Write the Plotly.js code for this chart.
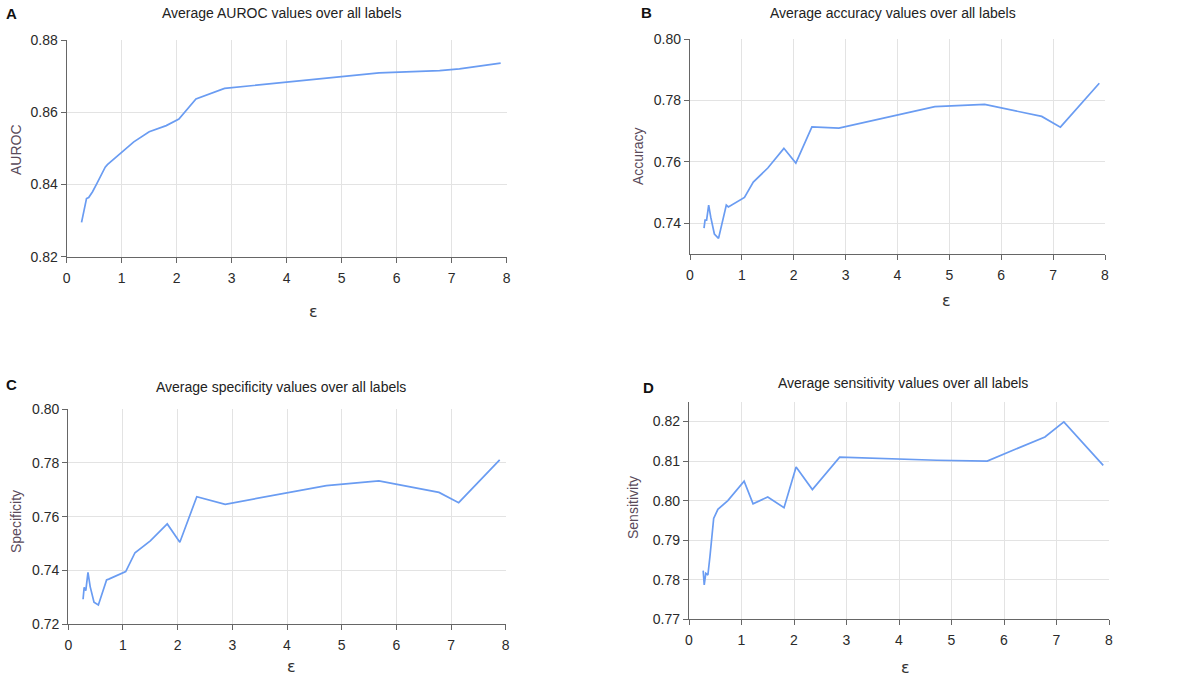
<!DOCTYPE html>
<html>
<head>
<meta charset="utf-8">
<script src="https://cdn.plot.ly/plotly-3.0.1.min.js"></script>
<style>
html,body{margin:0;padding:0;background:#fff;}
#chart{width:1181px;height:678px;}
</style>
</head>
<body>
<div id="chart"></div>
<script>
// epsilon values (x)
const epsilon = [0.27, 0.29, 0.32, 0.36, 0.40, 0.47, 0.55, 0.70, 0.74, 1.05, 1.22, 1.50, 1.81, 2.04, 2.35, 2.87, 4.72, 5.68, 6.78, 7.14, 7.89];

const auroc = [0.8295, 0.8310, 0.8335, 0.8361, 0.8364, 0.8380, 0.8403, 0.8448, 0.8455, 0.8495, 0.8518, 0.8546, 0.8563, 0.8581, 0.8637, 0.8666, 0.8694, 0.8709, 0.8715, 0.8720, 0.8736];

const accuracy = [0.7384, 0.7410, 0.7410, 0.7459, 0.7420, 0.7365, 0.7351, 0.7459, 0.7453, 0.7484, 0.7534, 0.7580, 0.7644, 0.7596, 0.7714, 0.7710, 0.7780, 0.7787, 0.7748, 0.7713, 0.7856];

const specificity = [0.7293, 0.7337, 0.7325, 0.7393, 0.7340, 0.7282, 0.7272, 0.7365, 0.7368, 0.7396, 0.7466, 0.7510, 0.7573, 0.7505, 0.7674, 0.7646, 0.7715, 0.7733, 0.7690, 0.7652, 0.7811];

const sensitivity = [0.7823, 0.7787, 0.7816, 0.7812, 0.7860, 0.7955, 0.7978, 0.7994, 0.8000, 0.8049, 0.7992, 0.8009, 0.7982, 0.8085, 0.8028, 0.8110, 0.8102, 0.8100, 0.8161, 0.8199, 0.8089];

const panelTitles = ["Average AUROC values over all labels", "Average accuracy values over all labels", "Average specificity values over all labels", "Average sensitivity values over all labels"];
const panelLetters = ["A", "B", "C", "D"];
const yTitles = ["AUROC", "Accuracy", "Specificity", "Sensitivity"];
const xTitle = "ε";
const xTicks = [0, 1, 2, 3, 4, 5, 6, 7, 8];

const W = 1181, H = 678;
const px = v => v / W;
const py = v => 1 - v / H;

const lineColor = "#6a9cf2";
const font = "Liberation Sans, Arial, sans-serif";

const traces = [
  {x: epsilon, y: auroc, xaxis: "x", yaxis: "y"},
  {x: epsilon, y: accuracy, xaxis: "x2", yaxis: "y2"},
  {x: epsilon, y: specificity, xaxis: "x3", yaxis: "y3"},
  {x: epsilon, y: sensitivity, xaxis: "x4", yaxis: "y4"}
].map(t => Object.assign(t, {type: "scatter", mode: "lines", line: {color: lineColor, width: 1.7}, hoverinfo: "x+y", showlegend: false}));

function xax(d, anchor) {
  return {
    domain: d, anchor: anchor, range: [0, 8], tickvals: xTicks, ticktext: xTicks.map(String),
    showgrid: true, gridcolor: "#e3e3e3", gridwidth: 1, zeroline: false,
    showline: true, linecolor: "#666", linewidth: 1.3, ticks: "outside", ticklen: 5, tickcolor: "#666",
    ticklabelstandoff: 3,
    tickfont: {family: font, size: 14, color: "#2a2a2a"}, mirror: false, fixedrange: true
  };
}
function yax(d, anchor, range, dtick, fmt) {
  return {
    domain: d, anchor: anchor, range: range, dtick: dtick, tick0: 0, tickformat: fmt,
    showgrid: true, gridcolor: "#e3e3e3", gridwidth: 1, zeroline: false,
    showline: true, linecolor: "#666", linewidth: 1.3, ticks: "outside", ticklen: 5, tickcolor: "#666",
    tickfont: {family: font, size: 14, color: "#2a2a2a"}, fixedrange: true
  };
}

const layout = {
  width: W, height: H,
  margin: {l: 0, r: 0, t: 0, b: 0},
  paper_bgcolor: "#fff", plot_bgcolor: "#fff",
  xaxis: xax([px(66.7), px(506.7)], "y"),
  yaxis: yax([py(256.7), py(40)], "x", [0.82, 0.88], 0.02, ".2f"),
  xaxis2: xax([px(690), px(1105)], "y2"),
  yaxis2: yax([py(254), py(39)], "x2", [0.73, 0.80], 0.02, ".2f"),
  xaxis3: xax([px(68.3), px(505.7)], "y3"),
  yaxis3: yax([py(624.3), py(409)], "x3", [0.72, 0.80], 0.02, ".2f"),
  xaxis4: xax([px(689), px(1109)], "y4"),
  yaxis4: yax([py(619.3), py(401.7)], "x4", [0.77, 0.825], 0.01, ".2f"),
  annotations: []
};

const titlePos = [[281, 13], [893, 13], [281, 387], [903, 383]];
const letterPos = [[12, 14], [646, 13], [12, 385], [648, 387]];
const xTitlePos = [[313, 311], [946, 300], [291, 666], [905, 667]];
const yTitlePos = [[16, 150], [638, 156], [16, 522], [633, 508]];

for (let i = 0; i < 4; i++) {
  layout.annotations.push({
    text: panelTitles[i], xref: "paper", yref: "paper", x: px(titlePos[i][0]), y: py(titlePos[i][1]),
    xanchor: "center", yanchor: "middle", showarrow: false,
    font: {family: font, size: 14, color: "#222"}
  });
  layout.annotations.push({
    text: "<b>" + panelLetters[i] + "</b>", xref: "paper", yref: "paper", x: px(letterPos[i][0]), y: py(letterPos[i][1]),
    xanchor: "center", yanchor: "middle", showarrow: false,
    font: {family: font, size: 15, color: "#111"}
  });
  layout.annotations.push({
    text: xTitle, xref: "paper", yref: "paper", x: px(xTitlePos[i][0]), y: py(xTitlePos[i][1]),
    xanchor: "center", yanchor: "middle", showarrow: false,
    font: {family: "DejaVu Sans, sans-serif", size: 16, color: "#333"}
  });
  layout.annotations.push({
    text: yTitles[i], xref: "paper", yref: "paper", x: px(yTitlePos[i][0]), y: py(yTitlePos[i][1]),
    xanchor: "center", yanchor: "middle", showarrow: false, textangle: -90,
    font: {family: font, size: 14, color: "#5a4a5a"}
  });
}

Plotly.newPlot("chart", traces, layout, {displayModeBar: false});
</script>
</body>
</html>
